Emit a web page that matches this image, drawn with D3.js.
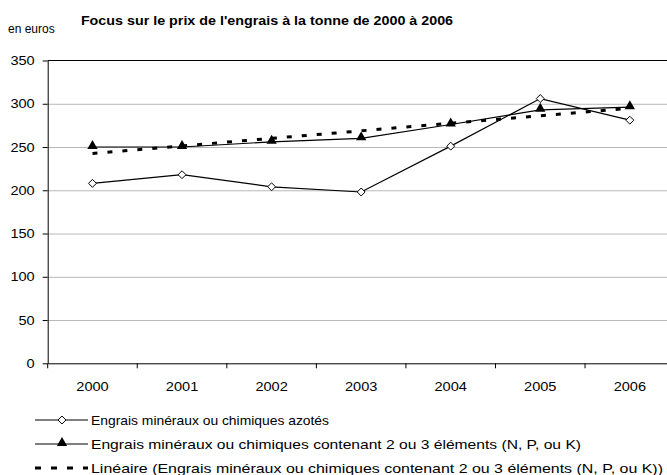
<!DOCTYPE html>
<html>
<head>
<meta charset="utf-8">
<script src="https://cdn.jsdelivr.net/npm/d3@7"></script>
<style>
  body { margin: 0; background: #fff; }
  svg { font-family: "Liberation Sans", Arial, sans-serif; display: block; }
  .grade line { stroke: #b8b8b8; }
  .grade path { display: none; }
  .eixo path, .eixo line { stroke: #000; }
  .eixo text { font-size: 13px; fill: #000; }
</style>
</head>
<body>
<svg id="grafico"></svg>
<script>
// Dados do gráfico
var annees = ['2000', '2001', '2002', '2003', '2004', '2005', '2006'];
var azotes = [208, 218, 204, 198, 251, 306, 281];
var npk = [250, 250, 256, 260, 276, 293, 296];
var ticksY = [0, 50, 100, 150, 200, 250, 300, 350];
var libelles = [
  'Engrais minéraux ou chimiques azotés',
  'Engrais minéraux ou chimiques contenant 2 ou 3 éléments (N, P, ou K)',
  'Linéaire (Engrais minéraux ou chimiques contenant 2 ou 3 éléments (N, P, ou K))'
];

var largura = 667, altura = 475;
var svg = d3.select('#grafico').attr('width', largura).attr('height', altura);

// Texto um pouco esticado na horizontal, como no original
function estica(sel, k) {
  sel.each(function() {
    var w = this.getComputedTextLength();
    d3.select(this).attr('textLength', w * k).attr('lengthAdjust', 'spacingAndGlyphs');
  });
}

// Área de plotagem (a direita sai da imagem, como no original)
var esq = 47.7, dir = 674.6, sup = 60.5, inf = 363.3;

var x = d3.scaleBand().domain(annees).range([esq, dir]);
var y = d3.scaleLinear().domain([0, 350]).range([inf, sup]);
var cx = d => x(d) + x.bandwidth() / 2;

// Linhas de grade
svg.append('g')
  .attr('class', 'grade')
  .attr('transform', 'translate(' + esq + ',0)')
  .call(d3.axisRight(y).tickValues(ticksY.filter(v => v > 0 && v < 350)).tickSize(dir - esq).tickFormat(''));

// Borda superior
svg.append('line')
  .attr('x1', esq).attr('x2', dir)
  .attr('y1', y(350)).attr('y2', y(350))
  .attr('stroke', '#000');

// Eixos
var eixoY = svg.append('g')
  .attr('class', 'eixo')
  .attr('transform', 'translate(' + esq + ',0)')
  .call(d3.axisLeft(y).tickValues(ticksY).tickSize(5).tickPadding(8).tickSizeOuter(0));
estica(eixoY.selectAll('text'), 1.12);

var eixoX = svg.append('g')
  .attr('class', 'eixo')
  .attr('transform', 'translate(0,' + inf + ')')
  .call(d3.axisBottom(x).tickSize(0).tickPadding(18).tickSizeOuter(0));
estica(eixoX.selectAll('text'), 1.12);

// Marcas entre categorias
eixoX.selectAll('.sep')
  .data(d3.range(annees.length + 1))
  .enter().append('line')
  .attr('x1', i => esq + i * x.step())
  .attr('x2', i => esq + i * x.step())
  .attr('y1', 0).attr('y2', 5)
  .attr('stroke', '#000');

// Tendência linear (mínimos quadrados sobre a série npk)
var xs = annees.map((d, i) => i);
var mx = d3.mean(xs), my = d3.mean(npk);
var inclinacao = d3.sum(xs, (v, i) => (v - mx) * (npk[i] - my)) / d3.sum(xs, v => (v - mx) * (v - mx));
var tendencia = xs.map(v => my + inclinacao * (v - mx));

var linha = d3.line().x((d, i) => cx(annees[i])).y(d => y(d));

svg.append('path')
  .datum(tendencia)
  .attr('d', linha)
  .attr('fill', 'none')
  .attr('stroke', '#000')
  .attr('stroke-width', 3)
  .attr('stroke-dasharray', '5,10');

svg.append('path')
  .datum(azotes)
  .attr('d', linha)
  .attr('fill', 'none')
  .attr('stroke', '#000')
  .attr('stroke-width', 1.2);

svg.append('path')
  .datum(npk)
  .attr('d', linha)
  .attr('fill', 'none')
  .attr('stroke', '#000')
  .attr('stroke-width', 1.2);

var losango = d3.symbol().type(d3.symbolDiamond2).size(40);
var triangulo = d3.symbol().type(d3.symbolTriangle).size(46);

svg.selectAll('.losango')
  .data(azotes)
  .enter().append('path')
  .attr('class', 'losango')
  .attr('d', losango)
  .attr('transform', (d, i) => 'translate(' + cx(annees[i]) + ',' + y(d) + ')')
  .attr('fill', '#fff')
  .attr('stroke', '#000');

svg.selectAll('.triangulo')
  .data(npk)
  .enter().append('path')
  .attr('class', 'triangulo')
  .attr('d', triangulo)
  .attr('transform', (d, i) => 'translate(' + cx(annees[i]) + ',' + (y(d) - 1) + ')')
  .attr('fill', '#000');

// Títulos
var titulo = svg.append('text')
  .attr('x', 267).attr('y', 25)
  .attr('text-anchor', 'middle')
  .style('font-size', '13px')
  .style('font-weight', 'bold')
  .text("Focus sur le prix de l'engrais à la tonne de 2000 à 2006");
estica(titulo, 1.1);

svg.append('text')
  .attr('x', 8).attr('y', 33)
  .style('font-size', '12px')
  .text('en euros');

// Legenda
var legenda = svg.append('g');
var linhasLeg = [420, 444, 468];
var largLeg = [238, 490, 572];

linhasLeg.forEach(function(ly, i) {
  var g = legenda.append('g').attr('transform', 'translate(0,' + ly + ')');
  if (i < 2) {
    g.append('line').attr('x1', 35).attr('x2', 88).attr('y1', 0).attr('y2', 0)
      .attr('stroke', '#000').attr('stroke-width', 1.2);
    g.append('path')
      .attr('d', i === 0 ? losango : triangulo)
      .attr('transform', 'translate(62,' + (i === 0 ? 0 : -1) + ')')
      .attr('fill', i === 0 ? '#fff' : '#000')
      .attr('stroke', i === 0 ? '#000' : 'none');
  } else {
    g.append('line').attr('x1', 35).attr('x2', 88).attr('y1', 0).attr('y2', 0)
      .attr('stroke', '#000').attr('stroke-width', 3)
      .attr('stroke-dasharray', '6,10');
  }
  g.append('text')
    .attr('x', 91).attr('y', 4.5)
    .style('font-size', '13px')
    .attr('textLength', largLeg[i])
    .attr('lengthAdjust', 'spacingAndGlyphs')
    .text(libelles[i]);
});
</script>
</body>
</html>
